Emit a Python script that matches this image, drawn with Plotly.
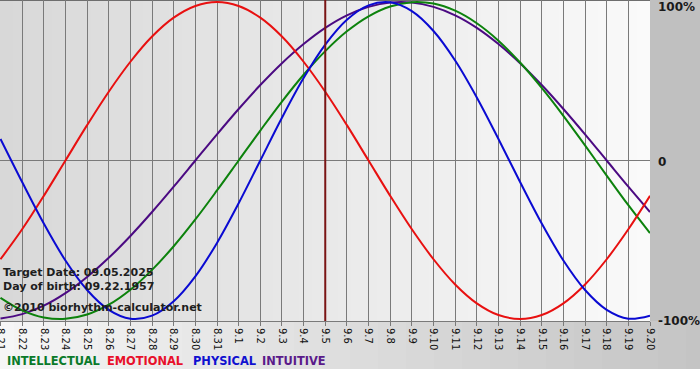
import plotly.graph_objects as go

# ---- data ----
tick_labels = ["8.21", "8.22", "8.23", "8.24", "8.25", "8.26", "8.27", "8.28", "8.29", "8.30",
               "8.31", "9.1", "9.2", "9.3", "9.4", "9.5", "9.6", "9.7", "9.8", "9.9",
               "9.10", "9.11", "9.12", "9.13", "9.14", "9.15", "9.16", "9.17", "9.18", "9.19", "9.20"]
days = list(range(len(tick_labels)))

physical = [0.136, -0.136, -0.398, -0.631, -0.817, -0.942, -0.998, -0.979, -0.888, -0.731,
            -0.520, -0.270, 0.0, 0.270, 0.520, 0.731, 0.888, 0.979, 0.998, 0.942,
            0.817, 0.631, 0.398, 0.136, -0.136, -0.398, -0.631, -0.817, -0.942, -0.998, -0.979]
emotional = [-0.623, -0.434, -0.223, 0.0, 0.223, 0.434, 0.623, 0.782, 0.901, 0.975,
             1.0, 0.975, 0.901, 0.782, 0.623, 0.434, 0.223, 0.0, -0.223, -0.434,
             -0.623, -0.782, -0.901, -0.975, -1.0, -0.975, -0.901, -0.782, -0.623, -0.434, -0.223]
intellectual = [-0.866, -0.945, -0.990, -0.999, -0.972, -0.910, -0.815, -0.690, -0.541, -0.372,
                -0.189, 0.0, 0.189, 0.372, 0.541, 0.690, 0.815, 0.910, 0.972, 0.999,
                0.990, 0.945, 0.866, 0.756, 0.618, 0.458, 0.282, 0.095, -0.095, -0.282, -0.458]
intuitive = [-0.997, -0.969, -0.916, -0.837, -0.735, -0.614, -0.476, -0.325, -0.165, 0.0,
             0.165, 0.325, 0.476, 0.614, 0.735, 0.837, 0.916, 0.969, 0.997, 0.997,
             0.969, 0.916, 0.837, 0.735, 0.614, 0.476, 0.325, 0.165, 0.0, -0.165, -0.325]
target_index = 15
y_labels = ["100%", "0", "-100%"]
y_label_vals = [1, 0, -1]
info_lines = ["Target Date: 09.05.2025", "Day of birth: 09.22.1957", "©2010 biorhythm-calculator.net"]
legend_names = ["INTELLECTUAL", "EMOTIONAL", "PHYSICAL", "INTUITIVE"]

# ---- styles ----
W, H = 700, 380
L, R, T, B = 0, 50, 0, 59
PW, PH = W - L - R, H - T - B

def px_x(px):
    return (px - L) / PW

def px_y(py):
    return (H - B - py) / PH

fig = go.Figure()

series = [
    ("INTUITIVE", intuitive, "#4b0a82"),
    ("INTELLECTUAL", intellectual, "#0c820c"),
    ("EMOTIONAL", emotional, "#e81010"),
    ("PHYSICAL", physical, "#0a0ad2"),
]
for name, vals, col in series:
    fig.add_trace(go.Scatter(x=days, y=vals, mode="lines", name=name,
                             line=dict(color=col, width=2, shape="spline", smoothing=1.0),
                             hoverinfo="skip"))

shapes = []

def grey(v):
    v = int(round(v))
    return f"rgb({v},{v},{v})"

# plot-area horizontal gradient
n = 50
for i in range(n):
    x0 = i / n
    x1 = (i + 1) / n
    v = 216 + (250 - 216) * (i + 0.5) / n
    shapes.append(dict(type="rect", xref="paper", yref="paper", x0=x0, x1=x1 + 0.002, y0=0, y1=1,
                       fillcolor=grey(v), line=dict(width=0), layer="below"))
# right margin
shapes.append(dict(type="rect", xref="paper", yref="paper", x0=1, x1=px_x(W), y0=0, y1=1,
                   fillcolor=grey(192), line=dict(width=0), layer="below"))
# bottom strip gradient
for i in range(n):
    x0 = px_x(W * i / n)
    x1 = px_x(W * (i + 1) / n)
    v = 246 + (196 - 246) * (i + 0.5) / n
    shapes.append(dict(type="rect", xref="paper", yref="paper", x0=x0, x1=x1 + 0.002,
                       y0=px_y(369), y1=0,
                       fillcolor=grey(v), line=dict(width=0), layer="below"))
# top border
shapes.append(dict(type="line", xref="paper", yref="paper", x0=0, x1=1, y0=1, y1=1,
                   line=dict(color="#6e6e6e", width=2), layer="below"))
# target day line
shapes.append(dict(type="line", xref="x", yref="paper", x0=days[target_index], x1=days[target_index],
                   y0=0, y1=1, line=dict(color="#7a1414", width=2), layer="above"))

annotations = []
info_y = [272, 286, 307]
for txt, cy in zip(info_lines, info_y):
    annotations.append(dict(text=txt, xref="paper", yref="paper", x=px_x(1), y=px_y(cy),
                            xanchor="left", yanchor="middle", showarrow=False,
                            font=dict(family="DejaVu Sans", size=11, color="#1e1e1e", weight="bold")))
legend_cols = ["#0a7a2a", "#e8102a", "#1010d0", "#5a1a8a"]
legend_x = [5, 105, 191, 260]
for txt, col, lx in zip(legend_names, legend_cols, legend_x):
    annotations.append(dict(text=txt, xref="paper", yref="paper", x=px_x(lx), y=px_y(361),
                            xanchor="left", yanchor="middle", showarrow=False,
                            font=dict(family="DejaVu Sans", size=11.4, color=col, weight="bold")))
y_shift = [-5, -1, -2]
for txt, val, ys in zip(y_labels, y_label_vals, y_shift):
    annotations.append(dict(text=txt, xref="paper", yref="y", x=px_x(656), y=val, yshift=ys,
                            xanchor="left", yanchor="middle", showarrow=False,
                            font=dict(family="DejaVu Sans", size=12, color="#1a1a1a", weight="bold")))

fig.update_layout(
    width=W, height=H,
    margin=dict(l=L, r=R, t=T, b=B, pad=0),
    paper_bgcolor="white",
    plot_bgcolor="rgba(0,0,0,0)",
    showlegend=False,
    shapes=shapes,
    annotations=annotations,
    xaxis=dict(range=[-0.023, 30.0], tickmode="array", tickvals=days, ticktext=tick_labels,
               tickangle=90, ticks="outside", ticklen=4, tickcolor="#7a7a7a",
               ticklabeloverflow="allow",
               tickfont=dict(family="DejaVu Sans", size=10, color="#111111"),
               showgrid=True, gridcolor="#7a7a7a", gridwidth=1, zeroline=False,
               showline=True, linecolor="#7a7a7a", linewidth=1, automargin=False, fixedrange=True),
    yaxis=dict(range=[-1.0126, 1.0126], tickmode="array", tickvals=[0], showticklabels=False,
               showgrid=True, gridcolor="#7a7a7a", gridwidth=1, zeroline=False,
               showline=False, automargin=False, fixedrange=True),
)

fig.write_html("out.html", config={"displayModeBar": False},
               post_script="document.body.style.margin='0';document.body.style.padding='0';"
                           "document.body.style.overflow='hidden';")
